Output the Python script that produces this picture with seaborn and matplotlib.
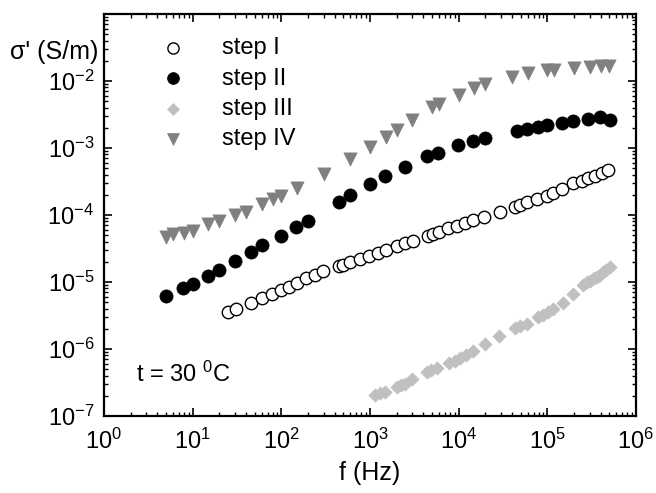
import matplotlib
matplotlib.use("Agg")
import matplotlib.pyplot as plt
import matplotlib.ticker as mticker
import seaborn as sns
import numpy as np

sns.set_style("ticks")
plt.rcParams['font.family'] = ['Liberation Sans', 'DejaVu Sans']
plt.rcParams['mathtext.fontset'] = 'custom'
plt.rcParams['mathtext.rm'] = 'Liberation Sans'
plt.rcParams['mathtext.it'] = 'Liberation Sans:italic'
for k in ['text.color', 'axes.labelcolor', 'xtick.color', 'ytick.color', 'axes.edgecolor']:
    plt.rcParams[k] = 'black'

# step I (open circles)
f_step1 = [25, 30.5, 45, 60.5, 79.4, 100, 122, 149, 192, 240, 297, 451, 495, 594,
           771, 986, 1230, 1535, 2000, 2483, 3055, 4508, 5130, 6000, 7640, 9500,
           11780, 14690, 19320, 29240, 43150, 49200, 58500, 75900, 98400, 116700,
           145200, 196300, 243800, 289700, 344400, 410200, 486400]
s_step1 = [3.61e-6, 3.92e-6, 4.86e-6, 5.71e-6, 6.62e-6, 7.60e-6, 8.41e-6, 9.57e-6,
           1.15e-5, 1.29e-5, 1.44e-5, 1.73e-5, 1.79e-5, 1.99e-5, 2.17e-5, 2.44e-5,
           2.71e-5, 3.01e-5, 3.39e-5, 3.82e-5, 4.16e-5, 4.94e-5, 5.20e-5, 5.64e-5,
           6.32e-5, 6.85e-5, 7.52e-5, 8.34e-5, 9.44e-5, 1.12e-4, 1.33e-4, 1.41e-4,
           1.55e-4, 1.71e-4, 1.92e-4, 2.11e-4, 2.42e-4, 2.97e-4, 3.25e-4, 3.53e-4,
           3.82e-4, 4.19e-4, 4.70e-4]

# step II (filled circles)
f_step2 = [5, 7.8, 10, 15, 20, 30, 45, 61, 98, 148, 201, 447, 594, 1000, 1486,
           2460, 4355, 5890, 9900, 14620, 19800, 45080, 58500, 78000, 98400,
           145200, 194500, 284000, 392600, 505000]
s_step2 = [6.25e-6, 8.22e-6, 9.25e-6, 1.23e-5, 1.53e-5, 2.08e-5, 2.77e-5, 3.53e-5,
           4.78e-5, 6.62e-5, 8.22e-5, 1.55e-4, 1.99e-4, 2.90e-4, 3.79e-4, 5.20e-4,
           7.52e-4, 8.41e-4, 1.09e-3, 1.26e-3, 1.39e-3, 1.78e-3, 1.92e-3, 2.08e-3,
           2.17e-3, 2.34e-3, 2.51e-3, 2.74e-3, 2.90e-3, 2.64e-3]

# step III (light grey diamonds)
f_step3 = [1138, 1297, 1476, 2000, 2234, 2483, 2979, 4355, 4875, 5690, 7870, 9080,
           10350, 12100, 14690, 19820, 28510, 43750, 49200, 58900, 79070, 89330,
           101600, 116700, 150000, 196300, 254100, 280000, 302700, 331900, 360600,
           392600, 427600, 464500, 509300]
s_step3 = [2.06e-7, 2.20e-7, 2.32e-7, 2.71e-7, 2.90e-7, 3.05e-7, 3.51e-7, 4.46e-7,
           4.78e-7, 5.20e-7, 6.18e-7, 6.73e-7, 7.35e-7, 8.00e-7, 9.44e-7, 1.19e-6,
           1.59e-6, 2.04e-6, 2.20e-6, 2.40e-6, 3.03e-6, 3.27e-6, 3.56e-6, 3.92e-6,
           4.94e-6, 6.62e-6, 9.02e-6, 9.84e-6, 1.04e-5, 1.13e-5, 1.20e-5, 1.29e-5,
           1.40e-5, 1.51e-5, 1.66e-5]

# step IV (grey triangles)
f_step4 = [5, 6, 8, 10, 15, 20, 30, 40, 60, 80, 100, 150, 300, 600, 1000, 1500,
           2000, 3000, 5000, 6000, 10000, 15000, 20000, 40000, 60000, 100000,
           120000, 200000, 300000, 400000, 500000]
s_step4 = [4.74e-5, 5.15e-5, 5.45e-5, 5.83e-5, 7.26e-5, 8.22e-5, 1.0e-4, 1.12e-4,
           1.46e-4, 1.71e-4, 1.92e-4, 2.51e-4, 4.09e-4, 6.85e-4, 1.04e-3, 1.48e-3,
           1.86e-3, 2.66e-3, 4.09e-3, 4.54e-3, 6.18e-3, 7.87e-3, 9.02e-3, 1.16e-2,
           1.30e-2, 1.44e-2, 1.48e-2, 1.55e-2, 1.64e-2, 1.66e-2, 1.70e-2]

labels = ['step I', 'step II', 'step III', 'step IV']
x_exps = [0, 1, 2, 3, 4, 5, 6]
y_exps = [-7, -6, -5, -4, -3, -2, -1]

fig = plt.figure(figsize=(6.56, 4.93), dpi=100)
ax = fig.add_axes([0.1585, 0.1562, 0.811, 0.8154])

sns.scatterplot(x=f_step1, y=s_step1, ax=ax, marker='o', s=80, facecolor='white',
                edgecolor='black', linewidth=1.0, label=labels[0], zorder=3)
sns.scatterplot(x=f_step2, y=s_step2, ax=ax, marker='o', s=90, color='black',
                edgecolor='black', linewidth=0.5, label=labels[1], zorder=3)
sns.scatterplot(x=f_step3, y=s_step3, ax=ax, marker='D', s=45, color='#c0c0c0',
                edgecolor='#c0c0c0', linewidth=0.5, label=labels[2], zorder=3)
sns.scatterplot(x=f_step4, y=s_step4, ax=ax, marker='v', s=90, color='#808080',
                edgecolor='#808080', linewidth=0.5, label=labels[3], zorder=3)

ax.set_xscale('log')
ax.set_yscale('log')
ax.set_xlim(1, 1e6)
ax.set_ylim(1e-7, 1e-1)

# only ticks inside the view
x_major = [10.0 ** e for e in x_exps]
y_major = [10.0 ** e for e in y_exps]
x_minor = [m * 10.0 ** e for e in x_exps[:-1] for m in range(2, 10)]
y_minor = [m * 10.0 ** e for e in y_exps[:-1] for m in range(2, 10)]
ax.set_xticks(x_major)
ax.set_xticks(x_minor, minor=True)
ax.set_yticks(y_major)
ax.set_yticks(y_minor, minor=True)
ax.set_xticklabels([r'$\mathregular{10^{%d}}$' % e for e in x_exps])
ax.set_yticklabels([r'$\mathregular{10^{%d}}$' % e if e < -1 else '' for e in y_exps])
ax.xaxis.set_minor_formatter(mticker.NullFormatter())
ax.yaxis.set_minor_formatter(mticker.NullFormatter())

ax.tick_params(which='both', direction='in', top=True, right=True, labelsize=17)
ax.tick_params(which='major', length=6, width=1.2)
ax.tick_params(which='minor', length=3, width=1.0)
ax.tick_params(axis='x', which='major', pad=9)
ax.tick_params(axis='y', which='major', pad=7)
for sp in ax.spines.values():
    sp.set_linewidth(1.6)

ax.set_xlabel('f (Hz)', fontsize=18, labelpad=5)
ax.set_ylabel('')

fig.text(10 / 656, 1 - 52 / 493, "σ' (S/m)", fontsize=18, va='center', ha='left',
         bbox=dict(facecolor='white', edgecolor='none', pad=1))

ax.text(0.06, 0.085, r't = 30 $^{0}$C', transform=ax.transAxes, fontsize=17)

leg = ax.legend(loc='upper left', bbox_to_anchor=(0.045, 0.995), frameon=False,
                fontsize=17, handletextpad=1.1, labelspacing=0.35, markerscale=0.9)

fig.savefig('out.png', dpi=100)
